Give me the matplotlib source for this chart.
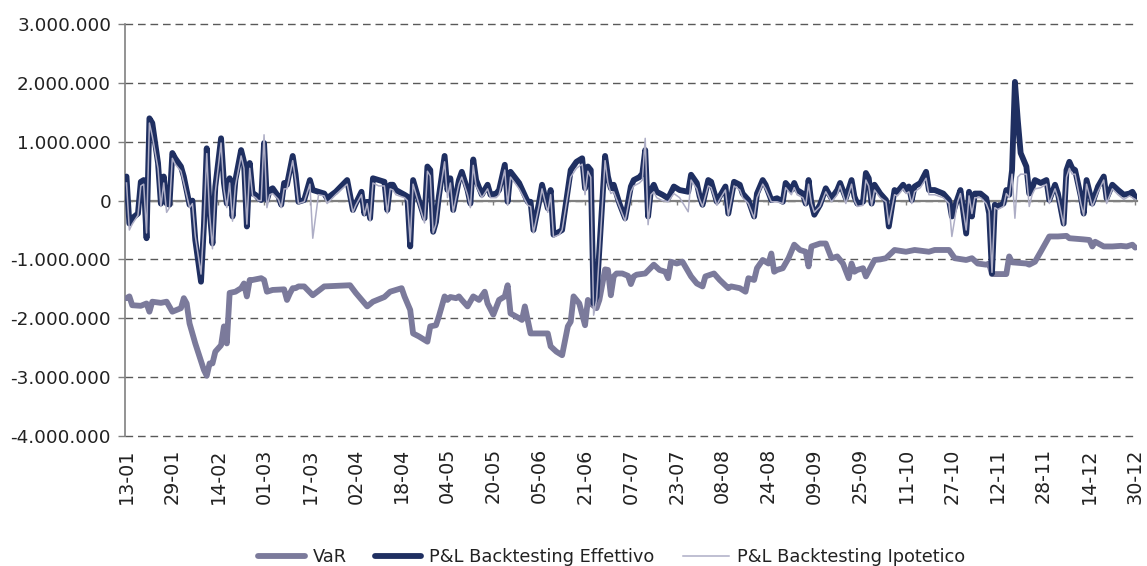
import numpy as np
import matplotlib
matplotlib.use("Agg")
import matplotlib.pyplot as plt
from matplotlib.ticker import FuncFormatter, FixedLocator

# ---------------- data (values in millions of euro) ----------------
# day offsets from 13-01 (calendar days)
PNL_DAYS = [0, 1, 2, 4, 5, 6, 7, 8, 9, 11, 12, 13, 14, 15, 16, 17, 19, 20, 22, 23,
            24, 26, 27, 28, 29, 30, 31, 33, 34, 35, 36, 37, 38, 40, 41, 42, 43, 44, 45, 46,
            47, 48, 49, 50, 51, 53, 54, 55, 56, 58, 59, 60, 62, 64, 65, 67, 69, 70, 73, 77,
            79, 80, 82, 83, 84, 85, 86, 88, 90, 91, 92, 93, 94, 97, 98, 99, 100, 102, 104, 105,
            106, 107, 108, 109, 111, 112, 113, 114, 115, 116, 117, 119, 120, 121, 122, 124, 126, 127, 129, 130,
            132, 133, 134, 137, 140, 141, 142, 144, 145, 147, 148, 149, 151, 152, 154, 155, 157, 159, 160, 161,
            162, 163, 164, 165, 167, 168, 169, 170, 172, 174, 176, 177, 179, 180, 181, 182, 183, 184, 185, 187,
            189, 191, 193, 196, 197, 199, 200, 201, 203, 204, 206, 207, 209, 210, 212, 214, 215, 217, 219, 220,
            222, 223, 225, 227, 229, 230, 232, 233, 234, 236, 237, 238, 239, 240, 242, 244, 246, 248, 249, 251,
            253, 254, 255, 257, 258, 259, 260, 261, 263, 265, 266, 268, 269, 271, 272, 273, 274, 275, 277, 279,
            280, 282, 285, 287, 288, 290, 291, 293, 294, 295, 296, 298, 300, 301, 302, 303, 304, 306, 307, 308,
            309, 310, 311, 312, 314, 315, 316, 317, 319, 321, 322, 324, 325, 327, 328, 329, 330, 331, 333, 334,
            335, 337, 339, 341, 342, 344, 346, 348, 350, 351, 352]

PNL_EFFETTIVO = [0.41, -0.39, -0.30, -0.22, 0.32, 0.35, -0.64, 1.40, 1.32, 0.64, -0.05, 0.41, -0.05, -0.07, 0.81, 0.72, 0.58, 0.41, -0.07, 0.00,
                 -0.67, -1.38, -0.44, 0.89, -0.16, -0.73, 0.24, 1.06, 0.30, -0.05, 0.38, -0.27, 0.35, 0.86, 0.66, -0.44, 0.64, 0.12, 0.10, 0.04,
                 0.01, 0.98, 0.01, 0.18, 0.21, 0.07, -0.07, 0.30, 0.27, 0.76, 0.45, -0.02, 0.01, 0.35, 0.18, 0.15, 0.12, 0.04, 0.15, 0.35,
                 -0.16, -0.05, 0.15, -0.22, -0.02, -0.30, 0.38, 0.35, 0.32, -0.16, 0.27, 0.27, 0.18, 0.10, 0.07, -0.78, 0.35, 0.01, -0.30, 0.58,
                 0.52, -0.53, -0.36, 0.07, 0.76, 0.18, 0.38, -0.16, 0.10, 0.35, 0.49, 0.18, -0.05, 0.70, 0.35, 0.10, 0.27, 0.10, 0.12, 0.18,
                 0.61, -0.02, 0.49, 0.30, -0.02, -0.02, -0.50, -0.02, 0.27, -0.13, 0.18, -0.58, -0.53, -0.50, 0.18, 0.52, 0.66, 0.72, 0.21, 0.58,
                 0.52, -1.75, -1.63, -0.84, 0.76, 0.41, 0.21, 0.27, -0.05, -0.30, 0.24, 0.35, 0.40, 0.46, 0.86, -0.27, 0.18, 0.27, 0.15, 0.10,
                 0.04, 0.24, 0.18, 0.15, 0.44, 0.30, 0.07, -0.07, 0.35, 0.32, -0.02, 0.07, 0.24, -0.22, 0.32, 0.27, 0.12, 0.01, -0.27, 0.12,
                 0.35, 0.27, 0.01, 0.04, -0.02, 0.30, 0.18, 0.30, 0.18, 0.12, -0.05, 0.35, -0.05, -0.24, -0.07, 0.21, 0.04, 0.18, 0.30, 0.04,
                 0.35, 0.07, -0.05, -0.02, 0.47, 0.38, -0.05, 0.27, 0.12, 0.01, -0.44, 0.18, 0.15, 0.27, 0.18, 0.24, 0.01, 0.24, 0.30, 0.49,
                 0.18, 0.18, 0.12, 0.01, -0.27, 0.04, 0.18, -0.56, 0.15, -0.27, 0.12, 0.12, 0.04, -0.22, -1.24, -0.07, -0.10, -0.05, 0.18, 0.10,
                 0.52, 2.02, 1.37, 0.81, 0.58, 0.12, 0.21, 0.35, 0.30, 0.35, 0.01, 0.27, 0.12, -0.39, 0.52, 0.66, 0.55, 0.52, 0.07, -0.22,
                 0.35, -0.05, 0.24, 0.41, 0.04, 0.27, 0.18, 0.10, 0.12, 0.15, 0.06]

PNL_IPOTETICO = [0.30, -0.50, -0.40, -0.25, 0.25, 0.28, -0.55, 1.32, 1.10, 0.55, -0.10, 0.30, -0.20, -0.12, 0.72, 0.62, 0.50, 0.30, -0.12, -0.05,
                 -0.60, -1.25, -0.40, 0.80, -0.22, -0.82, 0.15, 0.98, 0.20, -0.12, 0.30, -0.35, 0.25, 0.76, 0.55, -0.40, 0.55, 0.08, 0.05, 0.00,
                 0.00, 1.12, -0.12, 0.10, 0.12, 0.02, -0.12, 0.20, 0.20, 0.68, 0.35, -0.05, -0.02, 0.28, -0.64, 0.10, 0.08, -0.05, 0.10, 0.28,
                 -0.20, -0.08, 0.10, -0.25, -0.05, -0.35, 0.30, 0.25, 0.25, -0.22, 0.20, 0.18, 0.10, 0.05, 0.00, -0.70, 0.28, -0.05, -0.38, 0.50,
                 0.42, -0.55, -0.40, 0.02, 0.66, 0.05, 0.30, -0.20, 0.05, 0.28, 0.40, 0.10, -0.12, 0.60, 0.25, 0.05, 0.20, 0.05, 0.05, 0.10,
                 0.52, -0.08, 0.40, 0.20, -0.08, -0.10, -0.55, -0.08, 0.20, -0.20, 0.10, -0.62, -0.58, -0.50, 0.10, 0.40, 0.55, 0.62, 0.10, 0.50,
                 0.40, -1.95, -1.70, -0.90, 0.68, 0.30, 0.12, 0.15, -0.10, -0.35, 0.15, 0.25, 0.30, 0.35, 1.06, -0.41, 0.10, 0.15, 0.05, 0.00,
                 -0.02, 0.12, 0.05, -0.19, 0.35, 0.20, 0.02, -0.10, 0.25, 0.22, -0.08, 0.02, 0.18, -0.25, 0.25, 0.18, 0.05, -0.05, -0.30, 0.05,
                 0.28, 0.20, -0.02, -0.02, -0.05, 0.22, 0.10, 0.22, 0.10, 0.05, -0.08, 0.28, -0.05, -0.20, -0.10, 0.15, -0.02, 0.10, 0.25, -0.05,
                 0.28, 0.00, -0.10, -0.08, 0.35, 0.25, -0.08, 0.18, 0.05, -0.02, -0.40, 0.10, 0.08, 0.20, 0.12, 0.15, -0.05, 0.15, 0.22, 0.38,
                 0.10, 0.10, 0.05, -0.05, -0.61, -0.02, 0.12, -0.50, 0.08, -0.22, 0.05, 0.05, -0.05, -0.18, -1.22, -0.12, -0.15, -0.10, 0.12, 0.05,
                 0.45, -0.30, 0.40, 0.45, 0.45, -0.10, 0.10, 0.20, 0.22, 0.28, -0.05, 0.20, 0.05, -0.42, 0.40, 0.55, 0.45, 0.45, -0.05, -0.25,
                 0.28, -0.10, 0.15, 0.35, -0.05, 0.20, 0.10, 0.02, 0.08, 0.05, 0.02]

VAR_DAYS = [0, 1, 2, 5, 7, 8, 9, 12, 14, 16, 19, 20, 21, 22, 24, 27, 28, 29, 30, 31,
            33, 34, 35, 36, 38, 40, 41, 42, 43, 44, 47, 48, 49, 51, 55, 56, 57, 58, 59, 60,
            62, 65, 69, 78, 80, 84, 86, 90, 92, 96, 97, 99, 100, 102, 105, 106, 108, 109, 111, 112,
            113, 115, 116, 117, 119, 121, 123, 125, 126, 128, 130, 132, 133, 134, 137, 138, 139, 141, 143, 147,
            148, 150, 152, 154, 155, 156, 158, 160, 161, 162, 164, 165, 167, 168, 169, 170, 171, 173, 175, 176,
            177, 178, 181, 184, 186, 188, 189, 190, 192, 194, 197, 199, 201, 202, 205, 207, 210, 211, 214, 216,
            217, 219, 220, 222, 224, 225, 226, 227, 229, 231, 233, 235, 237, 238, 239, 242, 244, 246, 248, 250,
            252, 253, 254, 255, 257, 258, 261, 263, 265, 268, 272, 275, 280, 282, 287, 289, 293, 295, 297, 300,
            301, 302, 307, 308, 309, 314, 315, 317, 319, 322, 325, 328, 329, 334, 336, 337, 338, 341, 344, 347,
            349, 351, 352]

VAR = [-1.66, -1.63, -1.78, -1.79, -1.75, -1.89, -1.72, -1.74, -1.72, -1.89, -1.83, -1.66, -1.75, -2.09, -2.43, -2.88, -2.98, -2.77, -2.77, -2.57,
       -2.46, -2.14, -2.43, -1.57, -1.55, -1.49, -1.41, -1.63, -1.35, -1.35, -1.32, -1.35, -1.55, -1.52, -1.51, -1.69, -1.58, -1.49, -1.49, -1.46,
       -1.46, -1.61, -1.46, -1.44, -1.57, -1.80, -1.72, -1.64, -1.55, -1.49, -1.63, -1.86, -2.26, -2.31, -2.40, -2.14, -2.12, -1.97, -1.63, -1.69,
       -1.64, -1.66, -1.63, -1.69, -1.80, -1.63, -1.69, -1.55, -1.75, -1.94, -1.69, -1.63, -1.44, -1.92, -2.00, -2.03, -1.80, -2.26, -2.26, -2.26,
       -2.48, -2.57, -2.63, -2.14, -2.06, -1.63, -1.75, -2.12, -1.69, -1.75, -1.83, -1.69, -1.17, -1.18, -1.61, -1.29, -1.24, -1.24, -1.28, -1.42,
       -1.29, -1.26, -1.24, -1.09, -1.18, -1.21, -1.32, -1.04, -1.07, -1.04, -1.29, -1.41, -1.46, -1.29, -1.24, -1.35, -1.49, -1.46, -1.49, -1.55,
       -1.32, -1.35, -1.15, -1.01, -1.07, -0.90, -1.21, -1.18, -1.15, -0.98, -0.75, -0.84, -0.87, -1.12, -0.78, -0.73, -0.73, -0.98, -0.95, -1.07,
       -1.32, -1.07, -1.21, -1.18, -1.15, -1.29, -1.01, -1.00, -0.98, -0.84, -0.87, -0.84, -0.87, -0.84, -0.84, -0.98, -1.01, -0.98, -1.07, -1.09,
       -1.07, -1.25, -1.25, -0.95, -1.05, -1.07, -1.09, -1.04, -0.87, -0.61, -0.61, -0.60, -0.64, -0.66, -0.67, -0.78, -0.70, -0.78, -0.78, -0.77,
       -0.78, -0.75, -0.80]

TICK_DAYS = list(range(0, 353, 16))
TICK_LABELS = ["13-01", "29-01", "14-02", "01-03", "17-03", "02-04", "18-04", "04-05",
               "20-05", "05-06", "21-06", "07-07", "23-07", "08-08", "24-08", "09-09",
               "25-09", "11-10", "27-10", "12-11", "28-11", "14-12", "30-12"]
Y_TICKS = [-4, -3, -2, -1, 0, 1, 2, 3]
SERIES_NAMES = ["VaR", "P&L Backtesting Effettivo", "P&L Backtesting Ipotetico"]

MLN = 1_000_000

# ---------------- figure ----------------
plt.rcParams['font.family'] = ['DejaVu Sans']
fig = plt.figure(figsize=(11.47, 5.66), dpi=100)
ax = fig.add_axes([125 / 1147, 1 - 435.7 / 566, (1137 - 125) / 1147, (435.7 - 24.3) / 566])

c_var = "#7b7a9b"
c_eff = "#1f2f61"
c_ipo = "#aeaec6"

l_var, = ax.plot(VAR_DAYS, np.array(VAR) * MLN, color=c_var, lw=4.2, zorder=3,
                 solid_joinstyle='round', solid_capstyle='round')
l_eff, = ax.plot(PNL_DAYS, np.array(PNL_EFFETTIVO) * MLN, color=c_eff, lw=4.2, zorder=4,
                 solid_joinstyle='round', solid_capstyle='round')
l_ipo, = ax.plot(PNL_DAYS, np.array(PNL_IPOTETICO) * MLN, color=c_ipo, lw=1.1, zorder=5,
                 solid_joinstyle='round')

ax.set_xlim(-0.52, 352.6)
ax.set_ylim(-4 * MLN, 3 * MLN)

# y axis
ax.yaxis.set_major_locator(FixedLocator([v * MLN for v in Y_TICKS]))
ax.yaxis.set_major_formatter(FuncFormatter(lambda v, p: f"{int(round(v)):,}".replace(",", ".")))
ax.tick_params(axis='y', direction='out', length=5, width=1, color='#808080',
               labelsize=13.2, labelcolor='#222222', pad=5)
ax.yaxis.grid(True, color='#595959', lw=1.0, linestyle=(0, (5.5, 3.5)))
for gl in ax.yaxis.get_gridlines():
    gl.set_clip_on(False)
ax.set_axisbelow(True)

# spines
for s in ['top', 'right']:
    ax.spines[s].set_visible(False)
ax.spines['left'].set_color('#808080')
ax.spines['left'].set_linewidth(1.2)
ax.spines['bottom'].set_position(('data', 0))
ax.spines['bottom'].set_color('#808080')
ax.spines['bottom'].set_linewidth(1.6)
ax.spines['bottom'].set_zorder(2.5)

# ticks on zero line (no labels)
ax.set_xticks(TICK_DAYS)
ax.tick_params(axis='x', direction='out', length=3, width=1, color='#808080', labelbottom=False)

# labels at the bottom
sec = ax.secondary_xaxis('bottom')
sec.set_xticks(TICK_DAYS, labels=TICK_LABELS)
sec.tick_params(length=0, pad=9, labelsize=13.8, labelcolor='#222222', labelrotation=90)
sec.spines['bottom'].set_visible(False)

# legend
fig.legend([l_var, l_eff, l_ipo], SERIES_NAMES, loc='center', ncol=3,
           bbox_to_anchor=(612 / 1147, 9 / 566), frameon=False, fontsize=12.8,
           handlelength=2.6, handletextpad=0.45, columnspacing=1.6, labelcolor='#222222')

fig.savefig("out.png", dpi=100)
